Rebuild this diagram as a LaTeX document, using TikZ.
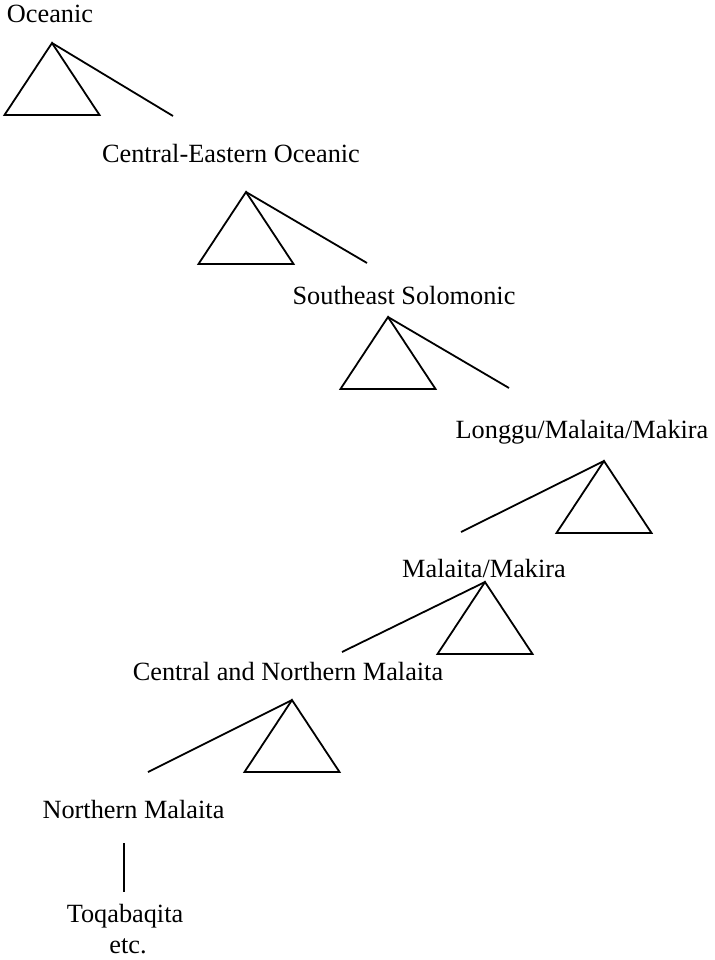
\documentclass[tikz,border=0pt]{standalone}
\usepackage{fontspec}
\setmainfont{Liberation Serif}
\begin{document}
\begin{tikzpicture}[x=1pt, y=-1pt, line width=1.8pt,
    every node/.style={anchor=base, inner sep=0pt, font=\fontsize{26.3}{30}\selectfont}]
    \useasboundingbox (0,0) rectangle (714,960);
    % group labels
    \node (oc)  at (50,23)    {Oceanic};
    \node (ceo) at (231,163)  {Central-Eastern Oceanic};
    \node (ses) at (404,304)  {Southeast Solomonic};
    \node (lmm) at (582,438)  {Longgu/Malaita/Makira};
    \node (mm)  at (484,577)  {Malaita/Makira};
    \node (cnm) at (288,680)  {Central and Northern Malaita};
    \node (nm)  at (133.5,818) {Northern Malaita};
    \node (tq)  at (125,922)  {Toqabaqita};
    \node (etc) at (128,953)  {etc.};
    % branch points and open ends
    \coordinate (t1) at (52,43);   \coordinate (e1) at (173,116);
    \coordinate (t2) at (246,192); \coordinate (e2) at (367,263);
    \coordinate (t3) at (388,317); \coordinate (e3) at (509,388);
    \coordinate (t4) at (604,461); \coordinate (e4) at (461,532);
    \coordinate (t5) at (485,582); \coordinate (e5) at (342,652);
    \coordinate (t6) at (292,700); \coordinate (e6) at (148,772);
    \coordinate (v1) at (124,843); \coordinate (v2) at (124,892);
    % triangles
    \foreach \t in {t1,t2,t3,t4,t5,t6}
        \draw (\t) -- ++(-47.5,72) -- ++(95,0) -- cycle;
    % branches
    \draw (t1) -- (e1);
    \draw (t2) -- (e2);
    \draw (t3) -- (e3);
    \draw (t4) -- (e4);
    \draw (t5) -- (e5);
    \draw (t6) -- (e6);
    \draw (v1) -- (v2);
\end{tikzpicture}
\end{document}
